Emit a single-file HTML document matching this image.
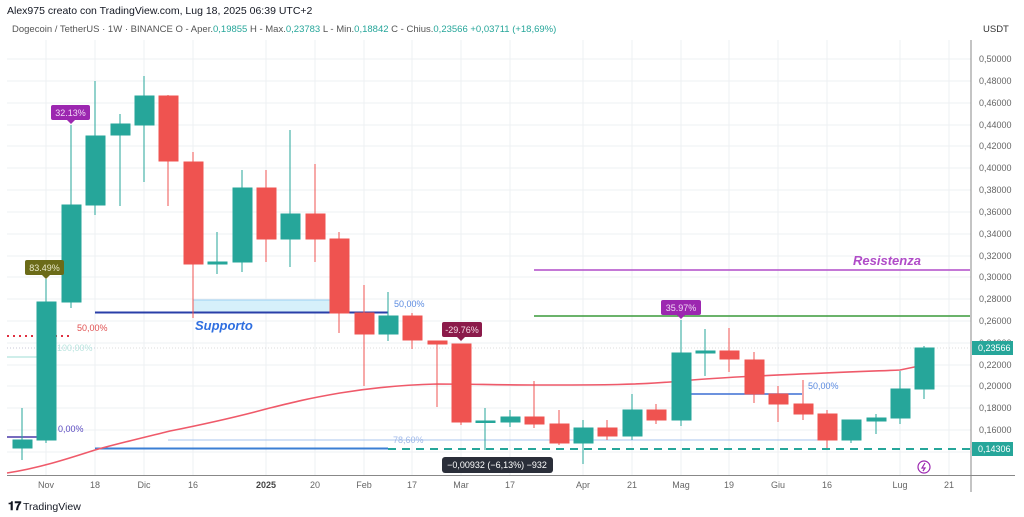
<!DOCTYPE html>
<html><head><meta charset="utf-8"><style>
html,body{margin:0;padding:0;background:#fff;width:1024px;height:517px;overflow:hidden}
svg{display:block;font-family:"Liberation Sans",sans-serif}
</style></head><body>
<svg width="1024" height="517" viewBox="0 0 1024 517" xmlns="http://www.w3.org/2000/svg">
<rect width="1024" height="517" fill="#fff"/>
<text x="7" y="14" font-size="10.5" fill="#131722">Alex975 creato con TradingView.com, Lug 18, 2025 06:39 UTC+2</text>
<text x="12" y="32" font-size="9.5" fill="#555"><tspan>Dogecoin / TetherUS · 1W · BINANCE  O - Aper.</tspan><tspan fill="#26a69a">0,19855</tspan><tspan>  H - Max.</tspan><tspan fill="#26a69a">0,23783</tspan><tspan>  L - Min.</tspan><tspan fill="#26a69a">0,18842</tspan><tspan>  C - Chius.</tspan><tspan fill="#26a69a">0,23566  +0,03711 (+18,69%)</tspan></text>
<text x="983" y="32" font-size="9.5" fill="#333">USDT</text>
<!-- grid -->
<g stroke="#eef0f3" stroke-width="1">
<line x1="7" x2="971" y1="59" y2="59"/><line x1="7" x2="971" y1="81" y2="81"/><line x1="7" x2="971" y1="103" y2="103"/><line x1="7" x2="971" y1="125" y2="125"/><line x1="7" x2="971" y1="146" y2="146"/><line x1="7" x2="971" y1="168" y2="168"/><line x1="7" x2="971" y1="190" y2="190"/><line x1="7" x2="971" y1="212" y2="212"/><line x1="7" x2="971" y1="234" y2="234"/><line x1="7" x2="971" y1="256" y2="256"/><line x1="7" x2="971" y1="277" y2="277"/><line x1="7" x2="971" y1="299" y2="299"/><line x1="7" x2="971" y1="321" y2="321"/><line x1="7" x2="971" y1="343" y2="343"/><line x1="7" x2="971" y1="365" y2="365"/><line x1="7" x2="971" y1="386" y2="386"/><line x1="7" x2="971" y1="408" y2="408"/><line x1="7" x2="971" y1="430" y2="430"/><line x1="7" x2="971" y1="452" y2="452"/>
<line x1="46" x2="46" y1="40" y2="475"/><line x1="95" x2="95" y1="40" y2="475"/><line x1="144" x2="144" y1="40" y2="475"/><line x1="193" x2="193" y1="40" y2="475"/><line x1="266" x2="266" y1="40" y2="475"/><line x1="315" x2="315" y1="40" y2="475"/><line x1="364" x2="364" y1="40" y2="475"/><line x1="412" x2="412" y1="40" y2="475"/><line x1="461" x2="461" y1="40" y2="475"/><line x1="510" x2="510" y1="40" y2="475"/><line x1="583" x2="583" y1="40" y2="475"/><line x1="632" x2="632" y1="40" y2="475"/><line x1="681" x2="681" y1="40" y2="475"/><line x1="729" x2="729" y1="40" y2="475"/><line x1="778" x2="778" y1="40" y2="475"/><line x1="827" x2="827" y1="40" y2="475"/><line x1="900" x2="900" y1="40" y2="475"/><line x1="949" x2="949" y1="40" y2="475"/>
</g>
<!-- annotations behind -->
<rect x="193" y="300" width="137" height="12" fill="#d6f0fa" stroke="#8cc8f0" stroke-width="0.8"/>
<line x1="95" x2="388" y1="312.5" y2="312.5" stroke="#2a3fa8" stroke-width="2"/>
<line x1="95" x2="388" y1="448.5" y2="448.5" stroke="#3b7fd4" stroke-width="2"/>
<line x1="168" x2="830" y1="440" y2="440" stroke="#a8c4ee" stroke-width="1"/>
<line x1="388" x2="970" y1="449" y2="449" stroke="#26a69a" stroke-width="2" stroke-dasharray="8,6"/>
<line x1="534" x2="970" y1="316" y2="316" stroke="#3a9a3a" stroke-width="1.5"/>
<line x1="534" x2="970" y1="270" y2="270" stroke="#b04cc8" stroke-width="1.5"/>
<line x1="690" x2="802" y1="394" y2="394" stroke="#3b6fd4" stroke-width="1.5"/>
<line x1="7" x2="70" y1="336" y2="336" stroke="#e03040" stroke-width="2" stroke-dasharray="2,4"/>
<line x1="7" x2="40" y1="357" y2="357" stroke="#9fdcd4" stroke-width="1"/>
<line x1="7" x2="95" y1="348" y2="348" stroke="#cce" stroke-width="0.7" stroke-dasharray="1,2"/>
<line x1="7" x2="40" y1="437" y2="437" stroke="#4a3aa8" stroke-width="1.5"/>
<line x1="7" x2="970" y1="348" y2="348" stroke="#bbb" stroke-width="0.6" stroke-dasharray="1,2"/>
<!-- MA -->
<path d="M7,473 C40,468 70,458 95,450 C120,443 150,436 170,431 C210,423 240,416 266,409 C290,403 305,399 340,393 C370,388 400,385 437,384 C470,384 500,385 540,385 C600,385 640,385 681,381 C720,377 800,374 900,370 L924,365" fill="none" stroke="#ef5a6a" stroke-width="1.6"/>
<!-- candles -->
<g id="c">
<g stroke="#26a69a" fill="#26a69a">
<line x1="22" x2="22" y1="408" y2="460"/><rect x="13" y="440" width="19" height="8"/>
<line x1="46" x2="46" y1="279" y2="443"/><rect x="37" y="302" width="19" height="138"/>
<line x1="71" x2="71" y1="125" y2="308"/><rect x="62" y="205" width="19" height="97"/>
<line x1="95" x2="95" y1="81" y2="215"/><rect x="86" y="136" width="19" height="69"/>
<line x1="120" x2="120" y1="114" y2="206"/><rect x="111" y="124" width="19" height="11"/>
<line x1="144" x2="144" y1="76" y2="182"/><rect x="135" y="96" width="19" height="29"/>
<line x1="217" x2="217" y1="232" y2="274"/><rect x="208" y="262" width="19" height="2"/>
<line x1="242" x2="242" y1="170" y2="272"/><rect x="233" y="188" width="19" height="74"/>
<line x1="290" x2="290" y1="130" y2="267"/><rect x="281" y="214" width="19" height="25"/>
<line x1="388" x2="388" y1="292" y2="341"/><rect x="379" y="316" width="19" height="18"/>
<line x1="485" x2="485" y1="408" y2="450"/><rect x="476" y="421" width="19" height="1.5"/>
<line x1="510" x2="510" y1="410" y2="427"/><rect x="501" y="417" width="19" height="5"/>
<line x1="583" x2="583" y1="420" y2="464"/><rect x="574" y="428" width="19" height="15"/>
<line x1="632" x2="632" y1="394" y2="440"/><rect x="623" y="410" width="19" height="26"/>
<line x1="681" x2="681" y1="320" y2="426"/><rect x="672" y="353" width="19" height="67"/>
<line x1="705" x2="705" y1="329" y2="376"/><rect x="696" y="351" width="19" height="2"/>
<line x1="851" x2="851" y1="420" y2="443"/><rect x="842" y="420" width="19" height="20"/>
<line x1="876" x2="876" y1="414" y2="434"/><rect x="867" y="418" width="19" height="3"/>
<line x1="900" x2="900" y1="371" y2="424"/><rect x="891" y="389" width="19" height="29"/>
<line x1="924" x2="924" y1="346" y2="399"/><rect x="915" y="348" width="19" height="41"/>
</g>
<g stroke="#ef5350" fill="#ef5350">
<line x1="168" x2="168" y1="95" y2="206"/><rect x="159" y="96" width="19" height="65"/>
<line x1="193" x2="193" y1="152" y2="318"/><rect x="184" y="162" width="19" height="102"/>
<line x1="266" x2="266" y1="170" y2="262"/><rect x="257" y="188" width="19" height="51"/>
<line x1="315" x2="315" y1="164" y2="262"/><rect x="306" y="214" width="19" height="25"/>
<line x1="339" x2="339" y1="232" y2="333"/><rect x="330" y="239" width="19" height="74"/>
<line x1="364" x2="364" y1="285" y2="386"/><rect x="355" y="313" width="19" height="21"/>
<line x1="412" x2="412" y1="313" y2="349"/><rect x="403" y="316" width="19" height="24"/>
<line x1="437" x2="437" y1="341" y2="407"/><rect x="428" y="341" width="19" height="3"/>
<line x1="461" x2="461" y1="344" y2="425"/><rect x="452" y="344" width="19" height="78"/>
<line x1="534" x2="534" y1="381" y2="428"/><rect x="525" y="417" width="19" height="7"/>
<line x1="559" x2="559" y1="410" y2="445"/><rect x="550" y="424" width="19" height="19"/>
<line x1="607" x2="607" y1="420" y2="440"/><rect x="598" y="428" width="19" height="8"/>
<line x1="656" x2="656" y1="404" y2="424"/><rect x="647" y="410" width="19" height="10"/>
<line x1="729" x2="729" y1="328" y2="372"/><rect x="720" y="351" width="19" height="8"/>
<line x1="754" x2="754" y1="352" y2="403"/><rect x="745" y="360" width="19" height="34"/>
<line x1="778" x2="778" y1="386" y2="422"/><rect x="769" y="394" width="19" height="10"/>
<line x1="803" x2="803" y1="380" y2="420"/><rect x="794" y="404" width="19" height="10"/>
<line x1="827" x2="827" y1="410" y2="448"/><rect x="818" y="414" width="19" height="26"/>
</g>
</g>
<!-- text annotations -->
<text x="195" y="330" font-size="13" font-weight="bold" font-style="italic" fill="#2f6fe0">Supporto</text>
<text x="853" y="265" font-size="13" font-weight="bold" font-style="italic" fill="#b04cc8">Resistenza</text>
<text x="394" y="307" font-size="9" fill="#5b8be0">50,00%</text>
<text x="77" y="331" font-size="9" fill="#e05050">50,00%</text>
<text x="57" y="351" font-size="9" fill="#b8e4de">100,00%</text>
<text x="58" y="432" font-size="9" fill="#5a4ac0">0,00%</text>
<text x="393" y="443" font-size="9" fill="#9fb8e8">78,60%</text>
<text x="808" y="389" font-size="9" fill="#5b8be0">50,00%</text>
<!-- labels -->
<rect x="25" y="260" width="39" height="15" rx="2" fill="#6b6b18"/><path d="M42,275 L46,279 L50,275Z" fill="#6b6b18"/>
<text x="44.5" y="271" font-size="9" fill="#e8e8c8" text-anchor="middle">83.49%</text>
<rect x="51" y="105" width="39" height="15" rx="2" fill="#9c27b0"/><path d="M67,120 L71,124 L75,120Z" fill="#9c27b0"/>
<text x="70.5" y="116" font-size="9" fill="#f0d8f5" text-anchor="middle">32.13%</text>
<rect x="442" y="322" width="40" height="15" rx="2" fill="#8b1a4a"/><path d="M457,337 L461,341 L465,337Z" fill="#8b1a4a"/>
<text x="462" y="333" font-size="9" fill="#f5d8e4" text-anchor="middle">-29.76%</text>
<rect x="661" y="300" width="40" height="15" rx="2" fill="#9c27b0"/><path d="M677,315 L681,319 L685,315Z" fill="#9c27b0"/>
<text x="681" y="311" font-size="9" fill="#f0d8f5" text-anchor="middle">35.97%</text>
<rect x="442" y="457" width="111" height="16" rx="3" fill="#2a2e39"/>
<text x="497" y="468" font-size="9" fill="#fff" text-anchor="middle">−0,00932 (−6,13%) −932</text>
<circle cx="924" cy="467" r="6" fill="none" stroke="#9c27b0" stroke-width="1.2"/>
<path d="M925,463 L922,468 L925,468 L923,471" fill="none" stroke="#9c27b0" stroke-width="1.2"/>
<!-- axes -->
<line x1="971" x2="971" y1="40" y2="492" stroke="#888" stroke-width="1"/>
<line x1="7" x2="1015" y1="475.5" y2="475.5" stroke="#888" stroke-width="1"/>
<g font-size="9" fill="#666">
<text x="979" y="62">0,50000</text><text x="979" y="84">0,48000</text><text x="979" y="106">0,46000</text><text x="979" y="128">0,44000</text><text x="979" y="149">0,42000</text><text x="979" y="171">0,40000</text><text x="979" y="193">0,38000</text><text x="979" y="215">0,36000</text><text x="979" y="237">0,34000</text><text x="979" y="259">0,32000</text><text x="979" y="280">0,30000</text><text x="979" y="302">0,28000</text><text x="979" y="324">0,26000</text><text x="979" y="346">0,24000</text><text x="979" y="368">0,22000</text><text x="979" y="389">0,20000</text><text x="979" y="411">0,18000</text><text x="979" y="433">0,16000</text>
</g>
<rect x="972" y="341" width="41" height="14" fill="#26a69a"/><text x="978" y="351" font-size="9" fill="#fff">0,23566</text>
<rect x="972" y="442" width="41" height="14" fill="#26a69a"/><text x="978" y="452" font-size="9" fill="#fff">0,14306</text>
<g font-size="9" fill="#666" text-anchor="middle">
<text x="46" y="488">Nov</text><text x="95" y="488">18</text><text x="144" y="488">Dic</text><text x="193" y="488">16</text><text x="266" y="488" font-weight="bold" fill="#444">2025</text><text x="315" y="488">20</text><text x="364" y="488">Feb</text><text x="412" y="488">17</text><text x="461" y="488">Mar</text><text x="510" y="488">17</text><text x="583" y="488">Apr</text><text x="632" y="488">21</text><text x="681" y="488">Mag</text><text x="729" y="488">19</text><text x="778" y="488">Giu</text><text x="827" y="488">16</text><text x="900" y="488">Lug</text><text x="949" y="488">21</text>
</g>
<text x="8" y="510" font-size="12" font-weight="bold" fill="#131722">𝟏𝟕</text>
<text x="23" y="510" font-size="10.5" fill="#131722">TradingView</text>
</svg>
</body></html>
